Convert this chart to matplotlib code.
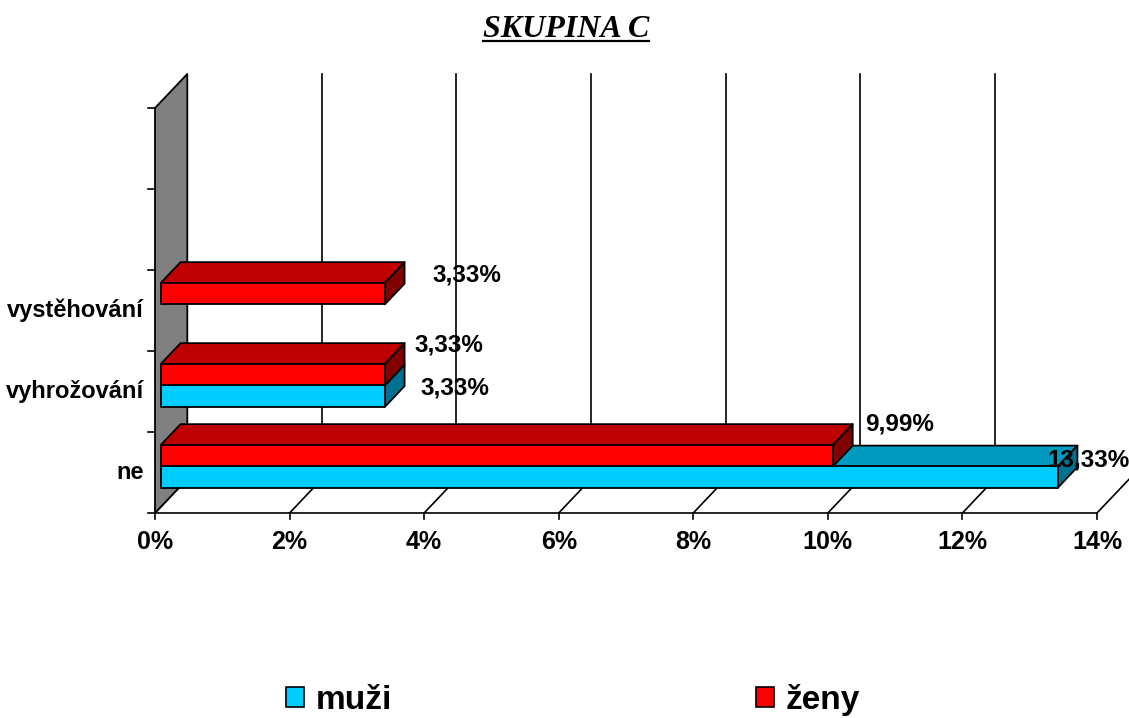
import matplotlib
matplotlib.use("Agg")
import matplotlib.pyplot as plt
from matplotlib.patches import Polygon, Patch
from matplotlib.lines import Line2D


# ------------------------------------------------------------
# Data
# ------------------------------------------------------------

categories = ["ne", "vyhrožování", "vystěhování", "", ""]
muzi = [13.33, 3.33, 0.0, 0.0, 0.0]
zeny = [9.99, 3.33, 3.33, 0.0, 0.0]
x_ticks = [0, 2, 4, 6, 8, 10, 12, 14]
x_tick_labels = ["0%", "2%", "4%", "6%", "8%", "10%", "12%", "14%"]
series_names = ["muži", "ženy"]

# label offsets (data units) from bar end / bar centre
muzi_label_off = [(-0.06, 0.29), (0.62, 0.17), None, None, None]
zeny_label_off = [(0.57, 0.47), (0.53, 0.44), (0.80, 0.30), None, None]


# ------------------------------------------------------------
# Style / geometry
# ------------------------------------------------------------

W, H = 1129, 718
DX, DY = 0.48, 0.42        # full depth shift in data units
BAR_D0, BAR_D1 = 0.18, 0.79
BAR_H = 0.265

CYAN = ("#00CCFF", "#0099C0", "#007090")   # front, top, side
RED = ("#FF0000", "#BF0000", "#800000")
WALL = "#808080"
EDGE_LW = 1.3

plt.rcParams["font.family"] = ["Liberation Sans", "DejaVu Sans"]

fig = plt.figure(figsize=(W / 100, H / 100), dpi=100)
ax = fig.add_axes([155 / W, (H - 513) / H, 942 / W, 405 / H])
ax.set_xlim(0, 14)
ax.set_ylim(0, len(categories))
ax.axis("off")


def pt(x, y, d):
    return (x + d * DX, y + d * DY)


def poly(points, color, z):
    ax.add_patch(Polygon(points, closed=True, facecolor=color,
                         edgecolor="black", linewidth=EDGE_LW,
                         joinstyle="round", zorder=z, clip_on=False))


def line(p0, p1, z=1, lw=EDGE_LW):
    ax.add_line(Line2D([p0[0], p1[0]], [p0[1], p1[1]], color="black",
                       linewidth=lw, zorder=z, clip_on=False))


def bar(x, y0, colors, z):
    if x <= 0:
        return
    y1 = y0 + BAR_H
    front = [pt(0, y0, BAR_D0), pt(x, y0, BAR_D0), pt(x, y1, BAR_D0), pt(0, y1, BAR_D0)]
    top = [pt(0, y1, BAR_D0), pt(x, y1, BAR_D0), pt(x, y1, BAR_D1), pt(0, y1, BAR_D1)]
    side = [pt(x, y0, BAR_D0), pt(x, y0, BAR_D1), pt(x, y1, BAR_D1), pt(x, y1, BAR_D0)]
    poly(top, colors[1], z)
    poly(side, colors[2], z)
    poly(front, colors[0], z)


n = len(categories)
x_max = x_ticks[-1]

# back wall grid (the last one falls outside the picture)
for t in x_ticks[1:-1]:
    line(pt(t, 0, 1), pt(t, n, 1), z=1, lw=1.2)

# floor
for t in x_ticks:
    line(pt(t, 0, 0), pt(t, 0, 1), z=1, lw=1.2)
    line((t, 0), (t, -0.075), z=1, lw=1.2)
line((0, 0), (x_max, 0), z=1, lw=1.2)

# left wall
poly([pt(0, 0, 0), pt(0, 0, 1), pt(0, n, 1), pt(0, n, 0)], WALL, 2)
for i in range(n + 1):
    line((0, i), (-0.1, i), z=2, lw=1.2)

# bars
for i in range(n):
    c = i + 0.5
    bar(muzi[i], c - BAR_H, CYAN, 3 + 2 * (n - i))
    bar(zeny[i], c, RED, 4 + 2 * (n - i))

# value labels
lab_font = dict(fontsize=17.5, fontweight="bold", ha="left", va="center", zorder=20)
for i in range(n):
    c = i + 0.5
    for vals, offs, yc in ((muzi, muzi_label_off, c - BAR_H / 2),
                           (zeny, zeny_label_off, c + BAR_H / 2)):
        if vals[i] > 0 and offs[i] is not None:
            txt = "{:.2f}%".format(vals[i]).replace(".", ",")
            ax.text(vals[i] + offs[i][0], yc + offs[i][1], txt, clip_on=False, **lab_font)

# axis labels
for t, s in zip(x_ticks, x_tick_labels):
    ax.text(t, -0.36, s, fontsize=18, fontweight="bold", ha="center", va="center")
for i, s in enumerate(categories):
    if s:
        ax.text(-0.17, i + 0.5, s, fontsize=17, fontweight="bold", ha="right", va="center")

# title (underlined)
title_base = 1 - 37 / H
title = fig.text(566 / W, title_base, "SKUPINA C", family="Liberation Serif",
                 fontsize=23, fontweight="bold", fontstyle="italic",
                 ha="center", va="baseline")
renderer = fig.canvas.get_renderer()
bb = title.get_window_extent(renderer)
fig.add_artist(Line2D([bb.x0 / W, bb.x1 / W], [title_base - 4 / H, title_base - 4 / H],
                      color="black", linewidth=1.6))

# legend
handles = [Patch(facecolor=CYAN[0], edgecolor="black", linewidth=1.2),
           Patch(facecolor=RED[0], edgecolor="black", linewidth=1.2)]
leg = fig.legend(handles, series_names, loc="center", bbox_to_anchor=(573 / W, 18 / H),
                 ncol=2, frameon=False, handlelength=0.55, handleheight=0.55,
                 handletextpad=0.36, columnspacing=10.9,
                 prop=dict(size=24, weight="bold"))

fig.savefig("out.png", dpi=100)
